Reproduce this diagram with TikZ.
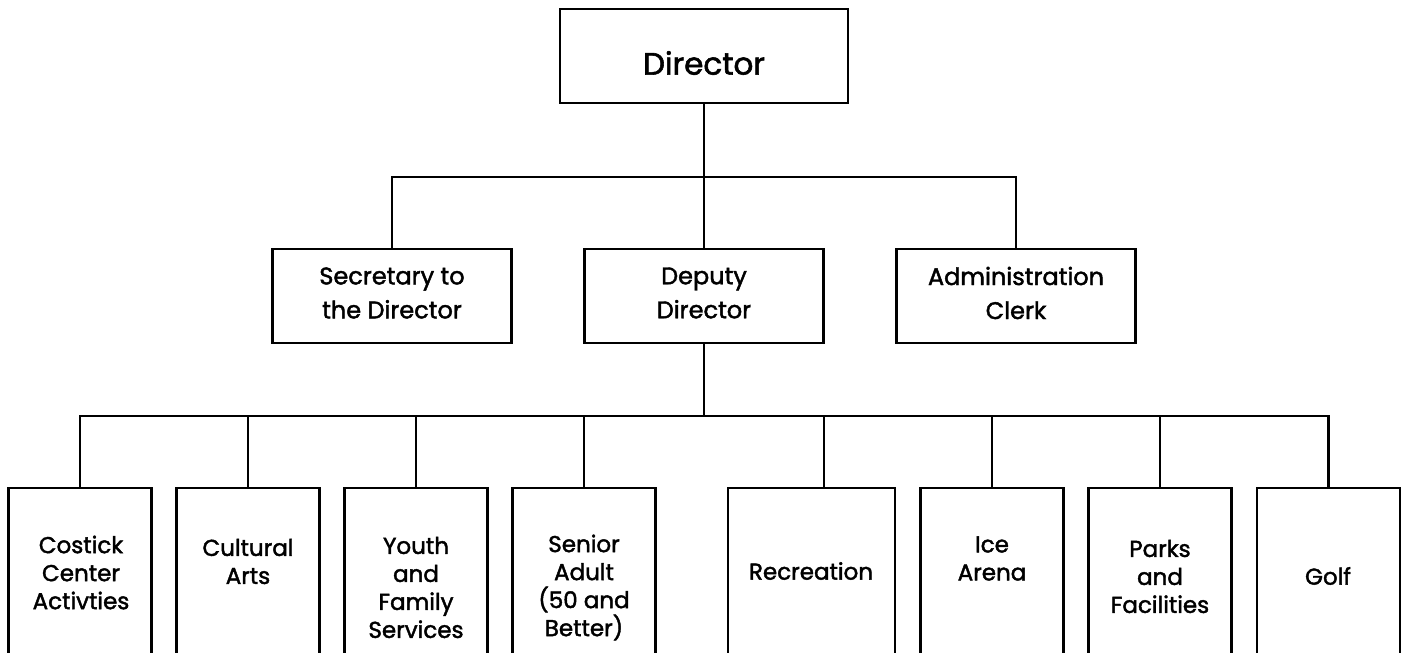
\documentclass[tikz,border=0pt]{standalone}
\usepackage{fontspec}
\setmainfont{Poppins}[FakeBold=1.8]
\usetikzlibrary{positioning}

\begin{document}
\begin{tikzpicture}[x=1pt,y=-1pt,
    box/.style={draw, line width=2.4pt, inner sep=0pt, minimum width=143pt, minimum height=200pt},
    midbox/.style={draw, line width=2.4pt, inner sep=0pt, minimum width=239pt, minimum height=94pt},
    topbox/.style={draw, line width=2.8pt, inner sep=0pt, minimum width=288pt, minimum height=94pt},
    lbl/.style={inner sep=0pt, align=center, font=\fontsize{23}{28}\selectfont},
    midlbl/.style={inner sep=0pt, align=center, font=\fontsize{24}{34}\selectfont},
    toplbl/.style={inner sep=0pt, font=\fontsize{31}{37}\selectfont},
    link/.style={line width=2.4pt}]
  \useasboundingbox (0,0) rectangle (1406,653);
  \clip (0,0) rectangle (1406,653);
  % top
  \node[topbox] (dir) at (704,56) {};
  \node[toplbl] (dirtext) at (704,63) {Director};
  % second row
  \node[midbox] (sec) at (392,296) {};
  \node[midbox] (dep) at (704,296) {};
  \node[midbox] (adm) at (1016,296) {};
  \node[midlbl] (sectext) at (392,293) {Secretary to\\the Director};
  \node[midlbl] (deptext) at (704,293) {Deputy\\Director};
  \node[midlbl] (admtext) at (1016,293) {Administration\\Clerk};
  % divisions
  \node[box] (cca) at (80,588) {};
  \node[box] (arts) at (248,588) {};
  \node[box] (youth) at (416,588) {};
  \node[box] (senior) at (584,588) {};
  \node[box, minimum width=167pt] (rec) at (811.5,588) {};
  \node[box] (ice) at (992,588) {};
  \node[box] (parks) at (1160,588) {};
  \node[box] (golf) at (1328.5,588) {};
  \node[lbl] (ccatext) at (81,572.5) {Costick\\Center\\Activties};
  \node[lbl] (artstext) at (248,561.5) {Cultural\\Arts};
  \node[lbl] (youthtext) at (416,587.5) {Youth\\and\\Family\\Services};
  \node[lbl] (seniortext) at (584,587.5) {Senior\\Adult\\(50 and\\Better)};
  \node[lbl] (rectext) at (811,571) {Recreation};
  \node[lbl] (icetext) at (992,558.5) {Ice\\Arena};
  \node[lbl] (parkstext) at (1160,576.5) {Parks\\and\\Facilities};
  \node[lbl] (golftext) at (1328,576) {Golf};
  % connectors
  \coordinate (topbar) at (704,177);
  \coordinate (lowbar) at (704,416);
  \coordinate (rectop) at (824,488);
  \draw[link] (dir.south) -- (dep.north);
  \draw[link] (sec.north) |- (topbar) -| (adm.north);
  \draw[link] (dep.south) -- (lowbar);
  \draw[link] (cca.north) |- (lowbar) -| (golf.north);
  \draw[link] (arts.north) -- (arts.north |- lowbar);
  \draw[link] (youth.north) -- (youth.north |- lowbar);
  \draw[link] (senior.north) -- (senior.north |- lowbar);
  \draw[link] (rectop) -- (rectop |- lowbar);
  \draw[link] (ice.north) -- (ice.north |- lowbar);
  \draw[link] (parks.north) -- (parks.north |- lowbar);
\end{tikzpicture}
\end{document}
